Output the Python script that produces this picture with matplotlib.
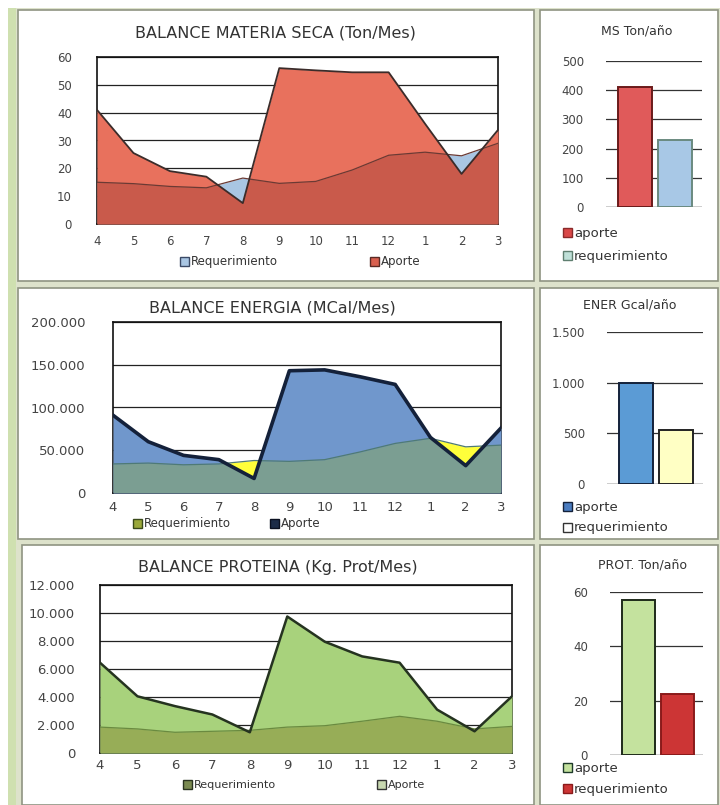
import matplotlib
matplotlib.use("Agg")
import matplotlib.pyplot as plt
from matplotlib.patches import Rectangle
from matplotlib.ticker import FuncFormatter
import numpy as np

plt.rcParams["font.family"] = ["DejaVu Sans"]

# datos mensuales (abril -> marzo)
meses = ["4", "5", "6", "7", "8", "9", "10", "11", "12", "1", "2", "3"]

ms_aporte = [41, 25.5, 19, 17, 7.5, 56, 55.2, 54.5, 54.5, 36, 18, 33.8]
ms_req = [15, 14.5, 13.5, 13, 16.5, 14.6, 15.3, 19.4, 24.7, 25.8, 24.5, 29]

ener_aporte = [91000, 60000, 44000, 39000, 17000, 143000, 144000, 136000, 127000, 65000, 32000, 76000]
ener_req = [34000, 35000, 33000, 34000, 38000, 37000, 39000, 48000, 58000, 64000, 54000, 56000]

prot_aporte = [6450, 4050, 3350, 2750, 1480, 9750, 7950, 6900, 6450, 3100, 1550, 4050]
prot_req = [1850, 1720, 1480, 1550, 1620, 1850, 1950, 2270, 2620, 2270, 1720, 1900]

# totales anuales
bar_labels = ["aporte", "requerimiento"]
ms_anual = [411, 229]
ener_anual = [1000, 535]
prot_anual = [57, 22.5]

W, H = 720, 805
fig = plt.figure(figsize=(W / 100, H / 100), dpi=100)
fig.patch.set_facecolor("white")


def box(x0, y0, x1, y1):
    return [x0 / W, 1 - y1 / H, (x1 - x0) / W, (y1 - y0) / H]


def fx(x):
    return x / W


def fy(y):
    return 1 - y / H


# fondo y paneles
fig.patches.append(Rectangle((fx(8), fy(805)), fx(712), 797 / H, transform=fig.transFigure,
                             facecolor="#dde2cb", edgecolor="none", zorder=-5))
fig.patches.append(Rectangle((fx(8), fy(805)), fx(8), 797 / H, transform=fig.transFigure,
                             facecolor="#cfe0b0", edgecolor="none", zorder=-4))
panels = [(18, 10, 534, 281), (540, 10, 718, 281),
          (18, 288, 534, 539), (540, 288, 718, 539),
          (22, 545, 534, 805), (540, 545, 718, 805)]
for x0, y0, x1, y1 in panels:
    fig.patches.append(Rectangle((fx(x0), fy(y1)), (x1 - x0) / W, (y1 - y0) / H,
                                 transform=fig.transFigure, facecolor="white",
                                 edgecolor="#8f9482", linewidth=1.2, zorder=-3))

txt = "#333333"
tick_col = "#444444"
miles = FuncFormatter(lambda v, p: f"{v:,.0f}".replace(",", "."))


def legend_item(x, y, color, edge, label, size=8.5):
    fig.patches.append(Rectangle((fx(x), fy(y + 4)), 9 / W, 9 / H, transform=fig.transFigure,
                                 facecolor=color, edgecolor=edge, linewidth=1.0))
    fig.text(fx(x + 11), fy(y), label, fontsize=size, color=txt, va="center", ha="left")


def area_chart(rect, aporte, req, c_ap, c_req, c_both, line_ap, lw_ap, line_req,
               ymax, ystep, title, title_xy, fmt=None, tsize=9, ypad=14, xpad=8):
    ax = fig.add_axes(box(*rect))
    x = np.arange(len(meses))
    ap = np.array(aporte, dtype=float)
    rq = np.array(req, dtype=float)
    ax.fill_between(x, 0, rq, color=c_req, linewidth=0, zorder=2)
    poly_ap = ax.fill_between(x, 0, ap, color=c_ap, linewidth=0, zorder=3)
    both = ax.fill_between(x, 0, rq, color=c_both, linewidth=0, zorder=4)
    both.set_clip_path(poly_ap.get_paths()[0], ax.transData)
    ax.plot(x, rq, color=line_req, linewidth=0.9, zorder=5)
    ax.plot(x, ap, color=line_ap, linewidth=lw_ap, zorder=6, solid_joinstyle="round")
    ax.set_xlim(0, len(meses) - 1)
    ax.set_ylim(0, ymax)
    ax.set_yticks(np.arange(0, ymax + 1, ystep))
    ax.set_xticks(x)
    ax.set_xticklabels(meses)
    if fmt is not None:
        ax.yaxis.set_major_formatter(fmt)
    ax.grid(axis="y", color="#222222", linewidth=0.9, zorder=1)
    ax.set_axisbelow(True)
    for s in ax.spines.values():
        s.set_color("#111111")
        s.set_linewidth(1.2)
    ax.tick_params(axis="both", length=0, labelsize=tsize, colors=tick_col)
    ax.tick_params(axis="x", pad=xpad)
    ax.tick_params(axis="y", pad=ypad)
    fig.text(fx(title_xy[0]), fy(title_xy[1]), title, fontsize=11.5, color=txt,
             ha="center", va="center")
    return ax


def bar_chart(rect, vals, colors, edges, ymax, ystep, title, title_xy, fmt=None):
    ax = fig.add_axes(box(*rect))
    ax.bar([0, 1], vals, width=0.85, color=colors, edgecolor=edges, linewidth=1.4, zorder=3)
    ax.set_xlim(-0.73, 1.67)
    ax.set_ylim(0, ymax)
    ax.set_yticks(np.arange(0, ymax + 1, ystep))
    if fmt is not None:
        ax.yaxis.set_major_formatter(fmt)
    ax.set_xticks([])
    ax.grid(axis="y", color="#333333", linewidth=0.9, zorder=1)
    for s in ax.spines.values():
        s.set_visible(False)
    ax.axhline(0, color="#333333", linewidth=0.9, zorder=2)
    ax.tick_params(axis="y", length=0, labelsize=8.5, colors=tick_col, pad=16)
    fig.text(fx(title_xy[0]), fy(title_xy[1]), title, fontsize=9, color=txt,
             ha="center", va="center")
    return ax


# --- Materia seca
area_chart((97, 57, 498, 224), ms_aporte, ms_req, "#e8715d", "#a9c6e3", "#c95a4b",
           "#3b2c2a", 1.3, "#6b3a34", 60, 10, "BALANCE MATERIA SECA (Ton/Mes)", (275, 33),
           tsize=8.5, ypad=18)
legend_item(180, 262, "#a9c6e3", "#3b4a66", "Requerimiento")
legend_item(370, 262, "#d9604f", "#5a2a24", "Aporte")

bar_chart((606, 61, 702, 207), ms_anual, ["#e05a5a", "#a8c8e6"], ["#6a1a1a", "#6a8a80"],
          500, 100, "MS Ton/año", (637, 31))
legend_item(563, 233, "#d94848", "#8a2a2a", "aporte", size=9.5)
legend_item(563, 256, "#bfe0d8", "#5f7f70", "requerimiento", size=9.5)

# --- Energia
area_chart((113, 322, 501, 493), ener_aporte, ener_req, "#7097cc", "#ffff3a", "#7b9e92",
           "#14213a", 2.6, "#4f7a75", 200000, 50000, "BALANCE ENERGIA (MCal/Mes)", (272, 308),
           fmt=miles, tsize=9.5, ypad=20, xpad=6)
legend_item(133, 524, "#9aa83a", "#3a4a1a", "Requerimiento")
legend_item(270, 524, "#1c2c48", "#0a1020", "Aporte")

bar_chart((607, 332, 703, 484), ener_anual, ["#5b9bd5", "#ffffc4"], ["#14213a", "#222222"],
          1500, 500, "ENER Gcal/año", (630, 305), fmt=miles)
legend_item(563, 507, "#4a7cc0", "#14213a", "aporte", size=9.5)
legend_item(563, 528, "white", "#333333", "requerimiento", size=9.5)

# --- Proteina
area_chart((100, 585, 512, 753), prot_aporte, prot_req, "#a8d27c", "#8faa4e", "#97ad57",
           "#253320", 1.8, "#6a8a40", 12000, 2000, "BALANCE PROTEINA (Kg. Prot/Mes)", (278, 567),
           fmt=miles, tsize=9.5, ypad=18, xpad=4)
legend_item(183, 785, "#7a8a50", "#2a3320", "Requerimiento", size=8)
legend_item(377, 785, "#c8d8b0", "#333333", "Aporte", size=8)

bar_chart((610, 592, 703, 755), prot_anual, ["#c4e29e", "#cc3535"], ["#1e2a1a", "#8a1a1a"],
          60, 20, "PROT. Ton/año", (642, 565))
legend_item(563, 768, "#c4e29e", "#1e3a2a", "aporte", size=9.5)
legend_item(563, 789, "#cc3535", "#8a1a1a", "requerimiento", size=9.5)

fig.savefig("out.png", dpi=100)
